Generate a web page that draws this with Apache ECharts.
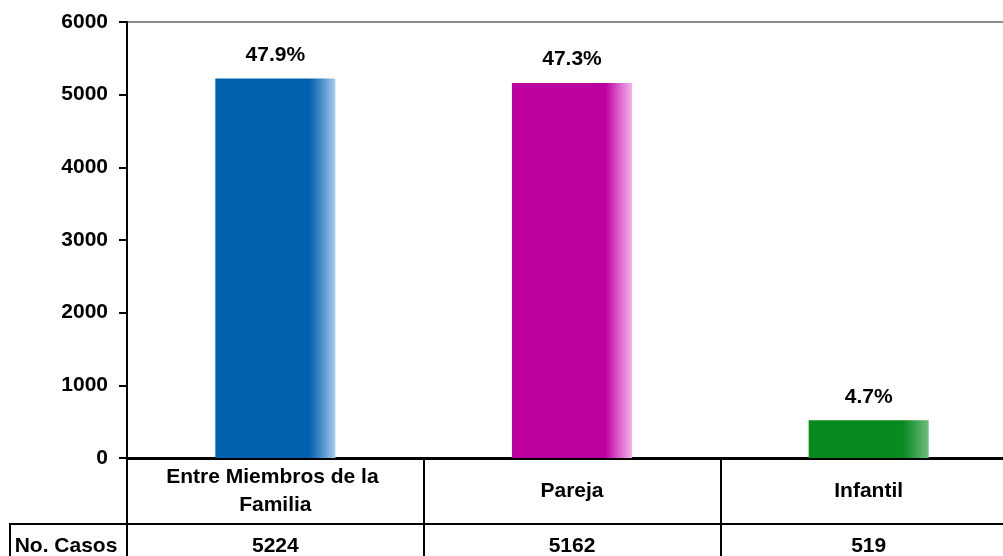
<!DOCTYPE html>
<html>
<head>
<meta charset="utf-8">
<script src="https://cdn.jsdelivr.net/npm/echarts@6/dist/echarts.min.js"></script>
<style>
  html, body { margin: 0; padding: 0; background: #fff; }
  #main { width: 1003px; height: 556px; }
</style>
</head>
<body>
<div id="main"></div>
<script>
// datos del gráfico
var categorias = ['Entre Miembros de la Familia', 'Pareja', 'Infantil'];
var casos = [5224, 5162, 519];
var porcentajes = ['47.9%', '47.3%', '4.7%'];
var ticksY = [0, 1000, 2000, 3000, 4000, 5000, 6000];

// colores: base y brillo de cada barra
var colores = [
  ['#0060ae', '#3f85c6', '#a9cbe9'],
  ['#bc009f', '#d54dc4', '#f2b4ea'],
  ['#068a1e', '#2f9c43', '#6fbf7c']
];

function brillo(c) {
  return new echarts.graphic.LinearGradient(0, 0, 1, 0, [
    { offset: 0, color: c[0] },
    { offset: 0.78, color: c[0] },
    { offset: 0.87, color: c[1] },
    { offset: 1, color: c[2] }
  ]);
}

var fuente = { fontFamily: 'Liberation Sans, Arial, sans-serif', fontWeight: 'bold', fontSize: 21, color: '#000' };

var myChart = echarts.init(document.getElementById('main'));

var option = {
  animation: false,
  grid: { left: 127, top: 22, width: 890, height: 436, outerBoundsMode: 'none', containLabel: false },
  xAxis: [
    {
      type: 'category',
      data: categorias,
      position: 'bottom',
      axisLine: { lineStyle: { color: '#000', width: 3 } },
      axisTick: { show: true, alignWithLabel: false, length: 66, lineStyle: { color: '#000', width: 2 } },
      axisLabel: Object.assign({
        interval: 0, margin: 33, verticalAlign: 'middle', align: 'center',
        lineHeight: 28, width: 260, overflow: 'break'
      }, fuente)
    },
    {
      // fila "No. Casos" de la tabla
      type: 'category',
      data: casos.map(String),
      position: 'bottom',
      offset: 66,
      axisLine: { lineStyle: { color: '#000', width: 2 } },
      axisTick: { show: true, alignWithLabel: false, length: 44, lineStyle: { color: '#000', width: 2 } },
      axisLabel: Object.assign({ interval: 0, margin: 22, verticalAlign: 'middle' }, fuente)
    }
  ],
  yAxis: {
    type: 'value',
    min: ticksY[0],
    max: ticksY[ticksY.length - 1],
    interval: 1000,
    axisLine: { show: true, lineStyle: { color: '#000', width: 2 } },
    axisTick: { show: true, length: 8, lineStyle: { color: '#000', width: 2 } },
    splitLine: { show: false },
    axisLabel: Object.assign({ margin: 19, formatter: function (v) { return String(v); } }, fuente)
  },
  series: [
    {
      type: 'bar',
      xAxisIndex: 0,
      barWidth: 120,
      data: casos.map(function (v, i) {
        return { value: v, itemStyle: { color: brillo(colores[i]) } };
      }),
      label: Object.assign({
        show: true,
        position: 'top',
        distance: 13,
        formatter: function (p) { return porcentajes[p.dataIndex]; }
      }, fuente)
    }
  ],
  graphic: [
    // borde superior gris del área de trazado
    { type: 'line', shape: { x1: 127, y1: 22, x2: 1003, y2: 22 }, style: { stroke: '#8c8c8c', lineWidth: 2 } },
    // celda "No. Casos"
    { type: 'line', shape: { x1: 9, y1: 524, x2: 127, y2: 524 }, style: { stroke: '#000', lineWidth: 2 } },
    { type: 'line', shape: { x1: 10, y1: 523, x2: 10, y2: 556 }, style: { stroke: '#000', lineWidth: 2 } },
    {
      type: 'text', x: 66, y: 546,
      style: { text: 'No. Casos', align: 'center', verticalAlign: 'middle', fill: '#000',
        font: 'bold 21px "Liberation Sans", Arial, sans-serif' }
    }
  ]
};

myChart.setOption(option);
</script>
</body>
</html>
